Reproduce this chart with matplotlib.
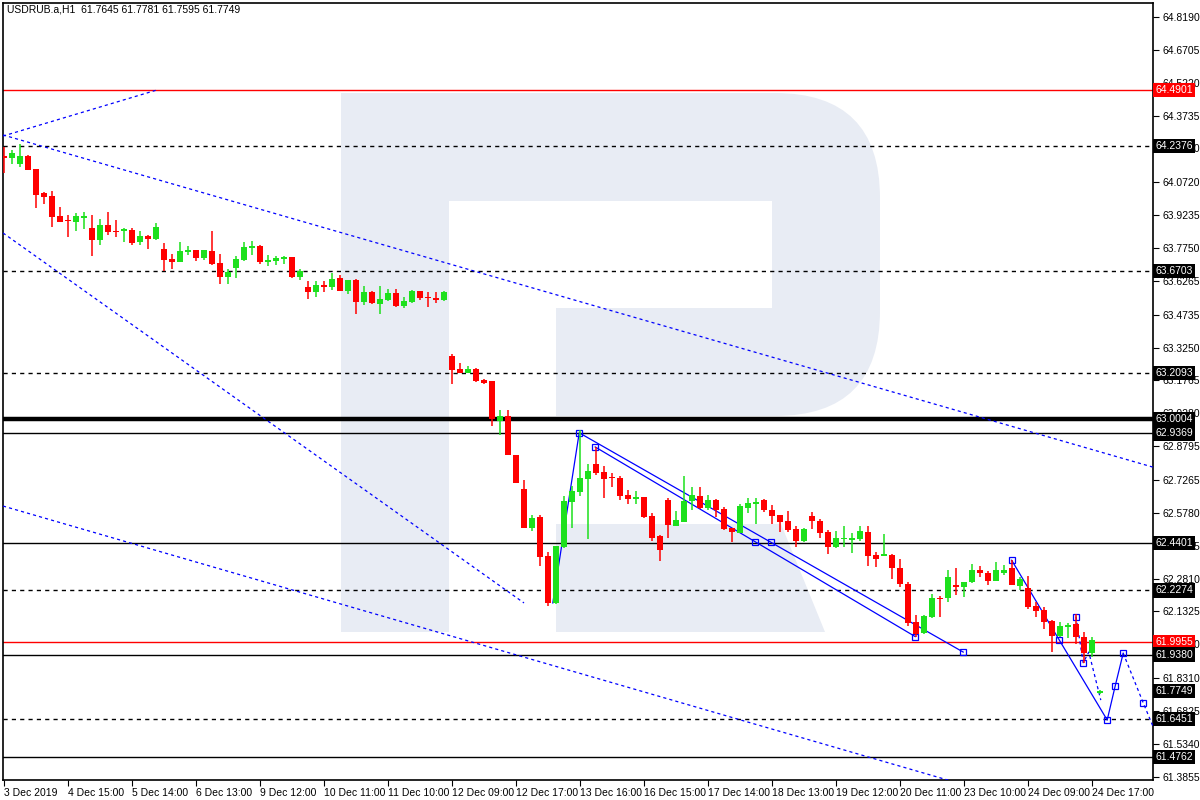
import numpy as np
import matplotlib
matplotlib.use('Agg')
from matplotlib import pyplot as plt
from matplotlib.patches import Rectangle, FancyBboxPatch, Polygon
from matplotlib.transforms import IdentityTransform

plt.rcParams['font.family'] = ['Liberation Sans', 'DejaVu Sans']

# USDRUB H1 candles, one per bar index
opens = [64.191, 64.182, 64.155, 64.191, 64.132, 64.025, 64.010, 63.919, 63.900, 63.894,
         63.912, 63.864, 63.813, 63.879, 63.853, 63.851, 63.856, 63.803, 63.829, 63.816,
         63.771, 63.725, 63.713, 63.757, 63.766, 63.730, 63.760, 63.706, 63.645, 63.686,
         63.721, 63.777, 63.784, 63.712, 63.717, 63.724, 63.734, 63.645, 63.599, 63.578,
         63.608, 63.600, 63.640, 63.582, 63.630, 63.532, 63.576, 63.523, 63.540, 63.572,
         63.514, 63.531, 63.581, 63.554, 63.551, 63.540, 63.287, 63.228, 63.210, 63.228,
         63.179, 63.174, 62.992, 63.016, 62.838, 62.685, 62.511, 62.559, 62.383, 62.172,
         62.426, 62.629, 62.674, 62.733, 62.799, 62.763, 62.738, 62.737, 62.659, 62.642,
         62.650, 62.564, 62.474, 62.636, 62.520, 62.538, 62.633, 62.654, 62.602, 62.636,
         62.595, 62.511, 62.489, 62.601, 62.617, 62.637, 62.591, 62.569, 62.541, 62.504,
         62.451, 62.564, 62.541, 62.493, 62.425, 62.459, 62.456, 62.460, 62.493, 62.388,
         62.385, 62.388, 62.328, 62.255, 62.083, 62.037, 62.109, 62.195, 62.192, 62.251,
         62.245, 62.264, 62.320, 62.305, 62.272, 62.307, 62.330, 62.248, 62.237, 62.159,
         62.139, 62.090, 62.023, 62.064, 62.076, 62.019, 61.946, 61.7645]
highs = [64.233, 64.218, 64.245, 64.194, 64.132, 64.028, 64.034, 63.959, 63.924, 63.932,
         63.938, 63.923, 63.908, 63.938, 63.902, 63.864, 63.864, 63.852, 63.832, 63.888,
         63.796, 63.748, 63.802, 63.783, 63.766, 63.766, 63.853, 63.748, 63.679, 63.738,
         63.802, 63.807, 63.787, 63.743, 63.739, 63.740, 63.736, 63.679, 63.626, 63.626,
         63.626, 63.663, 63.652, 63.630, 63.635, 63.603, 63.579, 63.605, 63.589, 63.591,
         63.555, 63.585, 63.581, 63.576, 63.576, 63.579, 63.296, 63.255, 63.242, 63.233,
         63.183, 63.174, 63.043, 63.043, 62.840, 62.727, 62.569, 62.569, 62.401, 62.430,
         62.654, 62.700, 62.952, 62.798, 62.875, 62.790, 62.759, 62.746, 62.682, 62.677,
         62.650, 62.576, 62.478, 62.647, 62.587, 62.746, 62.697, 62.697, 62.659, 62.641,
         62.603, 62.511, 62.617, 62.645, 62.644, 62.640, 62.614, 62.569, 62.587, 62.519,
         62.508, 62.581, 62.550, 62.501, 62.497, 62.519, 62.486, 62.520, 62.520, 62.403,
         62.483, 62.392, 62.370, 62.267, 62.117, 62.117, 62.211, 62.204, 62.320, 62.328,
         62.264, 62.347, 62.338, 62.315, 62.358, 62.342, 62.365, 62.290, 62.293, 62.177,
         62.154, 62.094, 62.086, 62.079, 62.121, 62.041, 62.019, 61.7781]
lows = [64.115, 64.155, 64.140, 64.128, 63.956, 63.974, 63.871, 63.894, 63.826, 63.853,
        63.863, 63.740, 63.790, 63.835, 63.826, 63.804, 63.790, 63.790, 63.769, 63.811,
        63.672, 63.682, 63.713, 63.745, 63.718, 63.721, 63.700, 63.612, 63.612, 63.641,
        63.718, 63.745, 63.703, 63.694, 63.698, 63.704, 63.641, 63.630, 63.546, 63.555,
        63.578, 63.585, 63.581, 63.567, 63.478, 63.519, 63.522, 63.478, 63.536, 63.510,
        63.505, 63.528, 63.540, 63.510, 63.528, 63.537, 63.162, 63.210, 63.210, 63.170,
        63.162, 62.971, 62.930, 62.838, 62.713, 62.511, 62.497, 62.340, 62.159, 62.165,
        62.420, 62.511, 62.656, 62.460, 62.751, 62.647, 62.696, 62.638, 62.620, 62.620,
        62.557, 62.451, 62.362, 62.466, 62.520, 62.535, 62.591, 62.596, 62.591, 62.561,
        62.500, 62.448, 62.486, 62.579, 62.528, 62.581, 62.526, 62.493, 62.493, 62.425,
        62.448, 62.505, 62.466, 62.392, 62.420, 62.425, 62.395, 62.451, 62.340, 62.335,
        62.385, 62.279, 62.242, 62.068, 62.016, 62.031, 62.105, 62.109, 62.177, 62.207,
        62.199, 62.260, 62.290, 62.252, 62.272, 62.297, 62.252, 62.230, 62.144, 62.109,
        62.053, 61.951, 62.019, 62.011, 61.986, 61.901, 61.928, 61.7595]
closes = [64.182, 64.206, 64.191, 64.128, 64.016, 64.007, 63.917, 63.894, 63.897, 63.920,
          63.920, 63.813, 63.878, 63.849, 63.849, 63.860, 63.799, 63.829, 63.817, 63.869,
          63.722, 63.713, 63.760, 63.764, 63.730, 63.766, 63.703, 63.645, 63.668, 63.725,
          63.780, 63.786, 63.712, 63.722, 63.728, 63.736, 63.644, 63.671, 63.578, 63.608,
          63.600, 63.635, 63.582, 63.630, 63.532, 63.576, 63.528, 63.545, 63.572, 63.514,
          63.534, 63.581, 63.551, 63.548, 63.540, 63.576, 63.224, 63.210, 63.228, 63.174,
          63.165, 63.004, 63.016, 62.838, 62.715, 62.511, 62.554, 62.380, 62.172, 62.428,
          62.632, 62.677, 62.737, 62.767, 62.760, 62.733, 62.735, 62.656, 62.642, 62.651,
          62.561, 62.466, 62.410, 62.523, 62.546, 62.632, 62.657, 62.602, 62.636, 62.591,
          62.505, 62.493, 62.611, 62.624, 62.627, 62.591, 62.565, 62.538, 62.501, 62.451,
          62.504, 62.541, 62.488, 62.425, 62.463, 62.463, 62.463, 62.496, 62.385, 62.368,
          62.388, 62.328, 62.255, 62.079, 62.031, 62.112, 62.192, 62.189, 62.287, 62.245,
          62.264, 62.320, 62.305, 62.272, 62.320, 62.322, 62.252, 62.279, 62.154, 62.136,
          62.086, 62.023, 62.067, 62.071, 62.016, 61.944, 62.004, 61.7749]

time_labels = ['3 Dec 2019', '4 Dec 15:00', '5 Dec 14:00', '6 Dec 13:00', '9 Dec 12:00',
               '10 Dec 11:00', '11 Dec 10:00', '12 Dec 09:00', '12 Dec 17:00', '13 Dec 16:00',
               '16 Dec 15:00', '17 Dec 14:00', '18 Dec 13:00', '19 Dec 12:00', '20 Dec 11:00',
               '23 Dec 10:00', '24 Dec 09:00', '24 Dec 17:00']
label_every = 8

price_ticks = [64.8190, 64.6705, 64.5220, 64.3735, 64.2250, 64.0720, 63.9235, 63.7750,
               63.6265, 63.4735, 63.3250, 63.1765, 63.0280, 62.8795, 62.7265, 62.5780,
               62.4295, 62.2810, 62.1325, 61.9840, 61.8310, 61.6825, 61.5340, 61.3855]

# horizontal levels: value, colour, style, width
levels = [(64.4901, 'red', 'solid', 1.0),
          (64.2376, 'black', 'dashed', 1.0),
          (63.6703, 'black', 'dashed', 1.0),
          (63.2093, 'black', 'dashed', 1.0),
          (63.0004, 'black', 'solid', 3.2),
          (62.9369, 'black', 'solid', 1.0),
          (62.4401, 'black', 'solid', 1.0),
          (62.2274, 'black', 'dashed', 1.0),
          (61.9955, 'red', 'solid', 1.0),
          (61.9380, 'black', 'solid', 1.0),
          (61.6451, 'black', 'dashed', 1.0),
          (61.4762, 'black', 'solid', 1.0)]
current_price = 61.7749

# blue channel lines (bar index, price)
ray_up_x = [-0.125, 19.1]
ray_up_y = [64.281, 64.489]
chan_top_x = [-0.125, 143.6]
chan_top_y = [64.286, 62.785]
chan_mid_x = [-0.125, 65.0]
chan_mid_y = [63.843, 62.171]
chan_low_x = [-0.125, 143.6]
chan_low_y = [62.609, 61.102]

wave_x = [68.6, 71.9, 119.9]
wave_y = [62.171, 62.940, 61.949]
wave2_x = [73.9, 113.9]
wave2_y = [62.876, 62.019]
marks_x = [71.9, 73.9, 93.9, 95.9, 113.9, 119.9]
marks_y = [62.940, 62.876, 62.446, 62.446, 62.019, 61.949]

fc_x = [125.96, 131.9, 137.9, 138.9, 139.9]
fc_y = [62.364, 62.004, 61.642, 61.796, 61.944]
fc_dot_x = [139.9, 142.4, 143.6]
fc_dot_y = [61.944, 61.720, 61.615]
small_x = [134.0, 134.9, 135.6, 137.1]
small_y = [62.109, 61.901, 61.949, 61.732]
fc_marks_x = [125.96, 131.9, 137.9, 138.9, 139.9, 142.4, 134.0, 134.9]
fc_marks_y = [62.364, 62.004, 61.642, 61.796, 61.944, 61.720, 62.109, 61.901]

W, H = 1200, 800
fig = plt.figure(figsize=(12, 8), dpi=100)
ax = fig.add_axes([3 / W, 1 - 780 / H, 1150 / W, 777 / H])
ax.set_xlim(-0.125, 143.625)
ax.set_ylim(61.3709, 64.8823)

# watermark logo (pixel coords, y from top)
wm = '#e8ecf4'
def px(x, y):
    return x, H - y
tr = IdentityTransform()
ax.add_patch(FancyBboxPatch(px(341, 416), 880 - 341, 416 - 93,
                            boxstyle='round,pad=0,rounding_size=105',
                            fc=wm, ec='none', transform=tr, zorder=0))
ax.add_patch(Rectangle(px(341, 632), 108, 632 - 93, fc=wm, ec='none', transform=tr, zorder=0.1))
ax.add_patch(Rectangle(px(449, 308), 772 - 449, 107, fc='white', ec='none', transform=tr, zorder=0.2))
ax.add_patch(Rectangle(px(449, 416), 556 - 449, 108, fc='white', ec='none', transform=tr, zorder=0.2))
ax.add_patch(Polygon([px(556, 524), px(781, 524), px(825, 632), px(556, 632)],
                     closed=True, fc=wm, ec='none', transform=tr, zorder=0.1))

for val, col, ls, lw in levels:
    style = (0, (3, 3)) if ls == 'dashed' else '-'
    ax.axhline(val, color=col, linestyle=style, lw=lw, zorder=2)

dot = (0, (2.5, 2.5))
for xs, ys in [(ray_up_x, ray_up_y), (chan_top_x, chan_top_y), (chan_mid_x, chan_mid_y),
               (chan_low_x, chan_low_y), (fc_dot_x, fc_dot_y), (small_x, small_y)]:
    ax.plot(xs, ys, color='#0000ff', lw=0.9, linestyle=dot, zorder=3)
ax.plot(wave_x, wave_y, color='#0000ff', lw=0.9, zorder=3)
ax.plot(wave2_x, wave2_y, color='#0000ff', lw=0.9, zorder=3)
ax.plot(fc_x, fc_y, color='#0000ff', lw=0.9, zorder=3)
ax.plot(marks_x, marks_y, 's', ms=5, mfc='none', mec='#0000ff', mew=0.9, zorder=4)
ax.plot(fc_marks_x, fc_marks_y, 's', ms=5, mfc='none', mec='#0000ff', mew=0.9, zorder=4)

# candles
o = np.array(opens); h = np.array(highs); l = np.array(lows); c = np.array(closes)
idx = np.arange(len(o))
up = c >= o
cols = np.where(up, '#1de01d', '#ff0000')
ax.vlines(idx, l, h, colors=cols, lw=1.1, zorder=5)
body_lo = np.minimum(o, c)
body_h = np.maximum(np.abs(c - o), 0.005)
ax.bar(idx, body_h, bottom=body_lo, width=0.65, color=cols, lw=0, zorder=6)

# axes styling
for s in ax.spines.values():
    s.set_color('black')
    s.set_linewidth(1.2)
ax.yaxis.tick_right()
ax.set_yticks(price_ticks)
ax.set_yticklabels(['%.4f' % v for v in price_ticks])
ax.tick_params(axis='y', direction='out', length=4, width=0.8, labelsize=7.5, pad=3)
ax.set_xticks(np.arange(len(time_labels)) * label_every)
ax.set_xticklabels(time_labels)
for t in ax.get_xticklabels():
    t.set_horizontalalignment('left')
ax.tick_params(axis='x', direction='out', length=4, width=0.8, labelsize=7.5, pad=2)

# price boxes at the right
ytr = ax.get_yaxis_transform()
for val, col, ls, lw in levels:
    ax.text(1.002, val, '%.4f' % val, transform=ytr, fontsize=7.5, color='white',
            va='center', ha='left', zorder=10, clip_on=False,
            bbox=dict(boxstyle='square,pad=0.2', fc=col, ec='none'))
ax.text(1.002, current_price, '%.4f' % current_price, transform=ytr, fontsize=7.5,
        color='white', va='center', ha='left', zorder=10, clip_on=False,
        bbox=dict(boxstyle='square,pad=0.2', fc='black', ec='none'))

fig.text(7 / W, 1 - 10 / H, 'USDRUB.a,H1  61.7645 61.7781 61.7595 61.7749',
         fontsize=7.5, va='center', ha='left')

fig.savefig('out.png', dpi=100, facecolor='white')
